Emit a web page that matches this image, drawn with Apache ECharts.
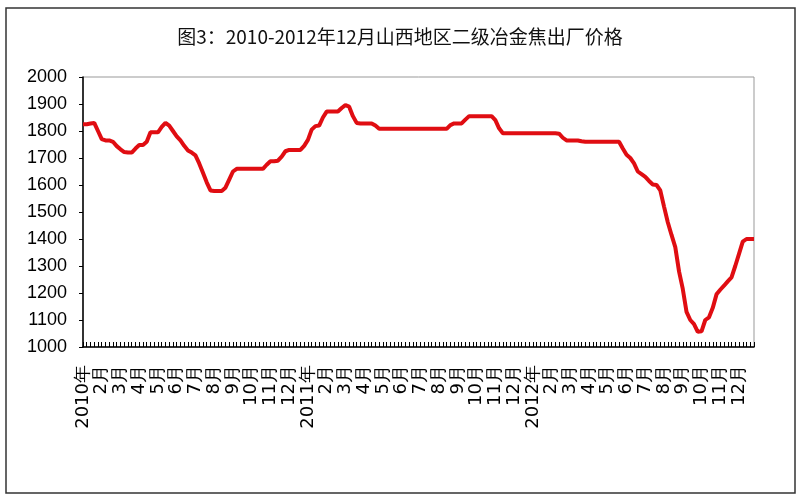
<!DOCTYPE html>
<html>
<head>
<meta charset="utf-8">
<script src="https://cdn.jsdelivr.net/npm/echarts@6/dist/echarts.min.js"></script>
<style>html,body{margin:0;padding:0;background:#fff}#c{width:800px;height:500px}</style>
</head>
<body>
<div id="c"></div>
<script>
const monthLabels = ['2010年','2月','3月','4月','5月','6月','7月','8月','9月','10月','11月','12月',
  '2011年','2月','3月','4月','5月','6月','7月','8月','9月','10月','11月','12月',
  '2012年','2月','3月','4月','5月','6月','7月','8月','9月','10月','11月','12月'];
const yTicks = [1000, 2000, 100]; // min, max, interval
const price2010 = [1825,1825,1828,1830,1800, 1770,1765,1765,1760,1744, 1732,1722,1720,1720,1735,
  1748,1748,1760,1795,1795, 1795,1815,1830,1820,1800, 1780,1765,1745,1728,1720,
  1710,1680,1645,1610,1580, 1578,1578,1578,1590,1620, 1650,1660,1660,1660,1660,
  1660,1660,1660,1660,1675, 1688,1688,1690,1705,1725, 1730,1730,1730,1730,1745];
const price2011 = [1767,1805,1818,1820,1850, 1872,1872,1872,1872,1885, 1896,1890,1855,1830,1828,
  1828,1828,1828,1820,1808, 1808,1808,1808,1808,1808, 1808,1808,1808,1808,1808,
  1808,1808,1808,1808,1808, 1808,1808,1808,1822,1828, 1828,1828,1842,1855,1855,
  1855,1855,1855,1855,1855, 1840,1810,1792,1792,1792, 1792,1792,1792,1792,1792];
const price2012 = [1792,1792,1792,1792,1792, 1792,1792,1790,1775,1765, 1765,1765,1765,1762,1760,
  1760,1760,1760,1760,1760, 1760,1760,1760,1760,1735, 1712,1700,1680,1650,1640,
  1630,1615,1602,1600,1580, 1520,1462,1415,1370,1280, 1215,1130,1100,1085,1056,
  1058,1100,1110,1145,1195, 1212,1227,1243,1258,1300, 1345,1390,1400,1400,1400];
const perMonth = 5;

const values = price2010.concat(price2011, price2012);
const categories = values.map((v, i) => monthLabels[Math.floor(i / perMonth)] + '#' + (i % perMonth));

const chart = echarts.init(document.getElementById('c'));
chart.setOption({
  animation: false,
  backgroundColor: '#fff',
  title: {
    text: '图3：2010-2012年12月山西地区二级冶金焦出厂价格',
    left: 'center', top: 27, padding: 0,
    textStyle: { fontFamily: 'Noto Sans CJK SC', fontSize: 19, fontWeight: 'normal', color: '#111' }
  },
  graphic: [{
    type: 'rect', shape: { x: 6, y: 8, width: 789, height: 485 },
    style: { fill: 'none', stroke: '#333', lineWidth: 1.5 }, silent: true
  }],
  grid: { left: 83, right: 46, top: 77, bottom: 153, show: true, borderColor: '#999', borderWidth: 1 },
  xAxis: {
    type: 'category', data: categories, boundaryGap: false,
    axisLine: { lineStyle: { color: '#000', width: 1.5 } },
    axisTick: { inside: true, length: 5, interval: 0, lineStyle: { color: '#000' } },
    axisLabel: {
      interval: (i) => i % perMonth === 0,
      formatter: (v) => v.split('#')[0],
      rotate: 90, margin: 18, color: '#000',
      fontFamily: 'DejaVu Sans', fontSize: 18
    },
    splitLine: { show: false }
  },
  yAxis: {
    type: 'value', min: yTicks[0], max: yTicks[1], interval: yTicks[2],
    axisLine: { show: true, lineStyle: { color: '#000', width: 1.5 } },
    axisTick: { show: true, length: 4, lineStyle: { color: '#000' } },
    axisLabel: { color: '#000', fontFamily: 'Liberation Sans', fontSize: 18, margin: 16,
      formatter: (v) => String(v) },
    splitLine: { show: false }
  },
  series: [{
    type: 'line', data: values, showSymbol: false, smooth: false,
    lineStyle: { color: '#e00d12', width: 4 }
  }]
});
</script>
</body>
</html>
